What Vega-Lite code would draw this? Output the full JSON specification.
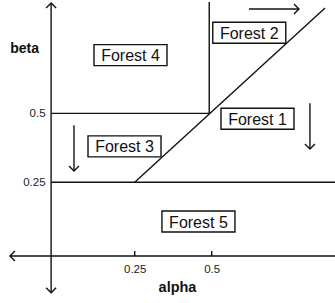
{
  "$schema": "https://vega.github.io/schema/vega-lite/v6.json",
  "width": 335,
  "height": 303,
  "autosize": {"type": "fit", "contains": "padding"},
  "padding": 0,
  "config": {"view": {"stroke": null}, "font": "Liberation Sans"},
  "layer": [
    {
      "data": {"values": [
        {"a": -0.0214, "b": 0.901, "a2": -0.0214, "b2": -0.152},
        {"a": -0.155, "b": -0.0184, "a2": 1.0, "b2": -0.0184},
        {"a": -0.0214, "b": 0.5, "a2": 0.492, "b2": 0.5},
        {"a": 0.492, "b": 0.5, "a2": 0.492, "b2": 0.95},
        {"a": 0.25, "b": 0.25, "a2": 0.868, "b2": 0.883},
        {"a": -0.0214, "b": 0.25, "a2": 1.0, "b2": 0.25},
        {"a": 0.25, "b": 0.0, "a2": 0.25, "b2": -0.0184},
        {"a": 0.5, "b": 0.0, "a2": 0.5, "b2": -0.0184},
        {"a": 0.621, "b": 0.8794, "a2": 0.7834, "b2": 0.8794},
        {"a": 0.819, "b": 0.5365, "a2": 0.819, "b2": 0.3704},
        {"a": 0.0529, "b": 0.457, "a2": 0.0529, "b2": 0.291}
      ]},
      "mark": {"type": "rule", "stroke": "#111", "strokeWidth": 1.4, "clip": true},
      "encoding": {
        "x": {"field": "a", "type": "quantitative", "title": "alpha",
          "scale": {"domain": [-0.1873, 0.9003], "nice": false, "zero": false},
          "axis": {"orient": "bottom", "offset": -47.3, "domain": false, "ticks": false, "grid": false,
            "values": [0.25, 0.5], "format": ".2~f", "labelFontSize": 11.5, "labelColor": "#222",
            "labelPadding": 8, "titleFontSize": 14.5, "titleFontWeight": "bold", "titleColor": "#111",
            "titleX": 177, "titleY": 32, "titleBaseline": "middle", "titleAlign": "center"}},
        "y": {"field": "b", "type": "quantitative", "title": "beta",
          "scale": {"domain": [-0.189, 0.9047], "nice": false, "zero": false},
          "axis": {"orient": "left", "offset": -51.1, "domain": false, "ticks": false, "grid": false,
            "values": [0.25, 0.5], "format": ".2~f", "labelFontSize": 11.5, "labelColor": "#222",
            "labelPadding": 6, "titleFontSize": 14, "titleFontWeight": "bold", "titleColor": "#111",
            "titleAngle": 0, "titleX": -27, "titleY": 46, "titleBaseline": "middle", "titleAlign": "center"}},
        "x2": {"field": "a2"},
        "y2": {"field": "b2"}
      }
    },
    {
      "data": {"values": [
        {"a": -0.0214, "b": 0.901, "dir": "up"},
        {"a": -0.0214, "b": -0.152, "dir": "down"},
        {"a": -0.155, "b": -0.0184, "dir": "left"},
        {"a": 0.7834, "b": 0.8794, "dir": "right"},
        {"a": 0.819, "b": 0.3704, "dir": "down"},
        {"a": 0.0529, "b": 0.291, "dir": "down"}
      ]},
      "mark": {"type": "point", "filled": false, "stroke": "#111", "strokeWidth": 1.4, "size": 100, "opacity": 1},
      "encoding": {
        "x": {"field": "a", "type": "quantitative"},
        "y": {"field": "b", "type": "quantitative"},
        "shape": {"field": "dir", "type": "nominal", "legend": null,
          "scale": {"domain": ["up", "down", "left", "right"],
            "range": ["M-1,1L0,0L1,1", "M-1,-1L0,0L1,-1", "M1,-1L0,0L1,1", "M-1,-1L0,0L-1,1"]}}
      }
    },
    {
      "data": {"values": [
        {"label": "Forest 1", "a": 0.6487, "b": 0.4805},
        {"label": "Forest 2", "a": 0.622, "b": 0.793},
        {"label": "Forest 3", "a": 0.2169, "b": 0.380},
        {"label": "Forest 4", "a": 0.2364, "b": 0.7116},
        {"label": "Forest 5", "a": 0.457, "b": 0.107}
      ]},
      "layer": [
        {
          "mark": {"type": "point", "shape": "M-1,-0.288L1,-0.288L1,0.288L-1,0.288Z", "size": 5329,
            "filled": true, "fill": "white", "stroke": "#111", "strokeWidth": 1.4, "opacity": 1},
          "encoding": {
            "x": {"field": "a", "type": "quantitative"},
            "y": {"field": "b", "type": "quantitative"}
          }
        },
        {
          "mark": {"type": "text", "fontSize": 16, "color": "#111", "align": "center", "baseline": "middle", "dy": 1},
          "encoding": {
            "x": {"field": "a", "type": "quantitative"},
            "y": {"field": "b", "type": "quantitative"},
            "text": {"field": "label"}
          }
        }
      ]
    }
  ]
}
